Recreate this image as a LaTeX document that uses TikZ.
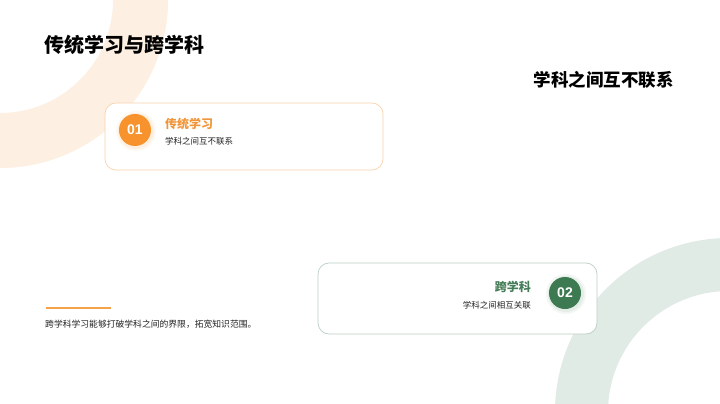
\documentclass[tikz,border=0pt]{standalone}
\usepackage{fontspec}
\setmainfont{Noto Sans CJK SC}
\newfontfamily\latinb{Liberation Sans}
\definecolor{ringor}{HTML}{FDF0E2}
\definecolor{ringgr}{HTML}{E1EBE6}
\definecolor{orcirc}{HTML}{F7922C}
\definecolor{grcirc}{HTML}{3D7A52}
\definecolor{orline}{HTML}{F8D3AC}
\definecolor{grline}{HTML}{BCCFC5}
\definecolor{ortext}{HTML}{F0963A}
\definecolor{grtext}{HTML}{467D58}
\definecolor{darktext}{HTML}{222222}
\definecolor{barcol}{HTML}{F5A24C}
\tikzset{
  card/.style={draw, line width=0.7pt, rounded corners=11pt, fill=white},
  numc/.style={circle, minimum size=32pt, inner sep=0pt, text=white, font=\latinb\bfseries\fontsize{14}{14}\selectfont},
  head/.style={inner sep=0pt, font=\bfseries\fontsize{12}{12}\selectfont},
  small/.style={inner sep=0pt, text=darktext, font=\fontsize{8.5}{8.5}\selectfont},
}
\begin{document}
\begin{tikzpicture}[x=1pt,y=-1pt]
\fill[white] (0,0) rectangle (720,404);
\useasboundingbox (0,0) rectangle (720,404);
\begin{scope}
\clip (0,0) rectangle (720,404);
\fill[ringor, even odd rule] (0,0) circle (168pt) (0,0) circle (113pt);
\fill[ringgr, even odd rule] (729,412) circle (174pt) (729,412) circle (121pt);
\end{scope}
% title
\node[anchor=west, inner sep=0pt, font=\bfseries\fontsize{20}{20}\selectfont] (title) at (44,45) {传统学习与跨学科};
\node[anchor=east, inner sep=0pt, font=\bfseries\fontsize{17.5}{17.5}\selectfont] (sub) at (674,80) {学科之间互不联系};
% card 1
\draw[card, draw=orline] (105,103) rectangle (383,170);
\node[fill=orcirc, circle, minimum size=40pt, opacity=0.06] at (136,131) {};
\node[fill=orcirc, circle, minimum size=36pt, opacity=0.08] at (136,131) {};
\node[numc, fill=orcirc] (n1) at (135,130) {01};
\node[head, text=ortext, anchor=west] (h1) at (165,124) {传统学习};
\node[small, anchor=west] (t1) at (165,141) {学科之间互不联系};
% card 2
\draw[card, draw=grline] (318,263) rectangle (597,334);
\node[fill=grcirc, circle, minimum size=40pt, opacity=0.06] at (566,294) {};
\node[fill=grcirc, circle, minimum size=36pt, opacity=0.08] at (566,294) {};
\node[numc, fill=grcirc] (n2) at (565,293) {02};
\node[head, text=grtext, anchor=east] (h2) at (531,287) {跨学科};
\node[small, anchor=east] (t2) at (531,305) {学科之间相互关联};
% bottom
\coordinate (b1) at (46,308);
\coordinate (b2) at (111,308);
\draw[barcol, line width=2pt] (b1) -- (b2);
\node[small, anchor=west, font=\fontsize{8.8}{8.8}\selectfont] (bt) at (45,324) {跨学科学习能够打破学科之间的界限，拓宽知识范围。};
\end{tikzpicture}
\end{document}
